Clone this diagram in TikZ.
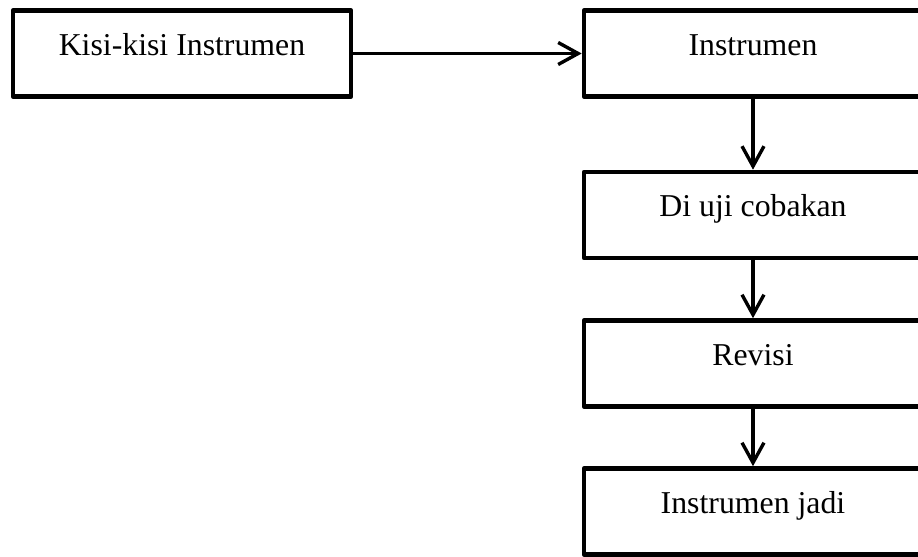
\documentclass[tikz,border=0pt]{standalone}
\usepackage{fontspec}
\setmainfont{Liberation Serif}
\usetikzlibrary{arrows.meta}
\begin{document}
	\begin{tikzpicture}[
		x=0.5pt, y=-0.5pt,
		box/.style={draw, line width=2.3pt, line join=round, minimum width=169pt, minimum height=43pt, inner sep=0pt, text height=8pt, text depth=6.5pt, font=\fontsize{15.9pt}{18pt}\selectfont},
		flow/.style={line width=1.7pt, -{Straight Barb[length=10pt, width=11pt]}}
		]
		
		\useasboundingbox (0,0) rectangle (918,557);
		
		\node[box] (kisi) at (182,53.5) {Kisi-kisi Instrumen};
		\node[box] (instr) at (753,53.5) {Instrumen};
		\node[box] (uji) at (753,215) {Di uji cobakan};
		\node[box] (revisi) at (753,363.5) {Revisi};
		\node[box] (jadi) at (753,511.5) {Instrumen jadi};
		
		\draw[flow] (kisi) -- (instr);
		\draw[flow] (instr) -- (uji);
		\draw[flow] (uji) -- (revisi);
		\draw[flow] (revisi) -- (jadi);
		
	\end{tikzpicture}
\end{document}
